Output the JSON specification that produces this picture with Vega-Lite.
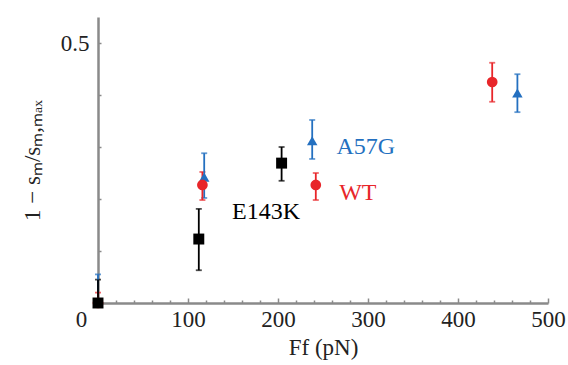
{
  "$schema": "https://vega.github.io/schema/vega-lite/v6.json",
  "width": 450,
  "height": 286,
  "autosize": {"type": "none"},
  "padding": {"left": 98, "top": 17, "right": 20, "bottom": 62},
  "config": {
    "view": {"stroke": null},
    "font": "Liberation Serif, Times New Roman, Times, serif",
    "axis": {
      "domainColor": "#8a8a8a",
      "domainWidth": 2.5,
      "tickColor": "#8a8a8a",
      "tickWidth": 1.5,
      "grid": false,
      "labelFont": "Liberation Serif, Times New Roman, Times, serif",
      "labelFontSize": 23,
      "labelColor": "#222222",
      "titleFont": "Liberation Serif, Times New Roman, Times, serif",
      "titleFontSize": 23,
      "titleFontWeight": "normal",
      "titleColor": "#222222"
    }
  },
  "datasets": {
    "pts": [
      {"series": "A57G", "x": 0, "y": 0, "lo": 0, "hi": 0.055},
      {"series": "A57G", "x": 118, "y": 0.242, "lo": 0.202, "hi": 0.288},
      {"series": "A57G", "x": 238, "y": 0.312, "lo": 0.277, "hi": 0.352},
      {"series": "A57G", "x": 466, "y": 0.404, "lo": 0.367, "hi": 0.44},
      {"series": "WT", "x": 0, "y": 0, "lo": 0, "hi": 0.02},
      {"series": "WT", "x": 116, "y": 0.227, "lo": 0.198, "hi": 0.252},
      {"series": "WT", "x": 242, "y": 0.227, "lo": 0.198, "hi": 0.25},
      {"series": "WT", "x": 438, "y": 0.425, "lo": 0.387, "hi": 0.462},
      {"series": "E143K", "x": 0, "y": 0, "lo": 0, "hi": 0.045},
      {"series": "E143K", "x": 112, "y": 0.123, "lo": 0.063, "hi": 0.181},
      {"series": "E143K", "x": 204, "y": 0.269, "lo": 0.235, "hi": 0.3}
    ],
    "labels": [
      {"series": "A57G", "x": 265, "y": 0.3},
      {"series": "WT", "x": 268, "y": 0.212},
      {"series": "E143K", "x": 149, "y": 0.175}
    ]
  },
  "encoding": {
    "x": {
      "field": "x", "type": "quantitative",
      "scale": {"domain": [0, 500], "nice": false, "zero": false},
      "axis": {
        "title": "Ff (pN)",
        "titlePadding": 3,
        "values": [0,20,40,60,80,100,120,140,160,180,200,220,240,260,280,300,320,340,360,380,400,420,440,460,480,500],
        "labelExpr": "datum.value % 100 == 0 ? format(datum.value, 'd') : ''",
        "labelOffset": {"condition": {"test": "datum.value == 0", "value": -17}, "value": 0},
        "tickSize": {"condition": {"test": "datum.value % 100 == 0", "value": -5}, "value": -3},
        "labelPadding": 10,
        "labelFlush": false,
        "labelOverlap": false
      }
    },
    "y": {
      "field": "y", "type": "quantitative",
      "scale": {"domain": [0, 0.55], "nice": false},
      "axis": {
        "title": "1 − sₘ/sₘ,ₘₐₓ",
        "titlePadding": 16,
        "values": [0, 0.1, 0.2, 0.3, 0.4, 0.5],
        "labelExpr": "datum.value == 0.5 ? '0.5' : ''",
        "tickSize": -3,
        "labelPadding": 12,
        "labelOverlap": false
      }
    },
    "color": {
      "field": "series", "type": "nominal",
      "scale": {"domain": ["A57G", "WT", "E143K"], "range": ["#2470c0", "#e8262a", "#000000"]},
      "legend": null
    }
  },
  "layer": [
    {
      "data": {"name": "pts"},
      "mark": {"type": "errorbar", "ticks": {"size": 6}, "thickness": 1.8},
      "encoding": {
        "y": {"field": "lo", "type": "quantitative"},
        "y2": {"field": "hi"}
      }
    },
    {
      "data": {"name": "pts"},
      "mark": {"type": "point", "filled": true, "opacity": 1},
      "encoding": {
        "shape": {
          "field": "series", "type": "nominal",
          "scale": {"domain": ["A57G", "WT", "E143K"], "range": ["triangle-up", "circle", "square"]},
          "legend": null
        },
        "size": {
          "field": "series", "type": "nominal",
          "scale": {"domain": ["A57G", "WT", "E143K"], "range": [110, 120, 140]},
          "legend": null
        }
      }
    },
    {
      "data": {"name": "labels"},
      "mark": {"type": "text", "align": "left", "baseline": "middle", "fontSize": 24, "font": "Liberation Serif, Times New Roman, Times, serif"},
      "encoding": {
        "text": {"field": "series"}
      }
    }
  ]
}
